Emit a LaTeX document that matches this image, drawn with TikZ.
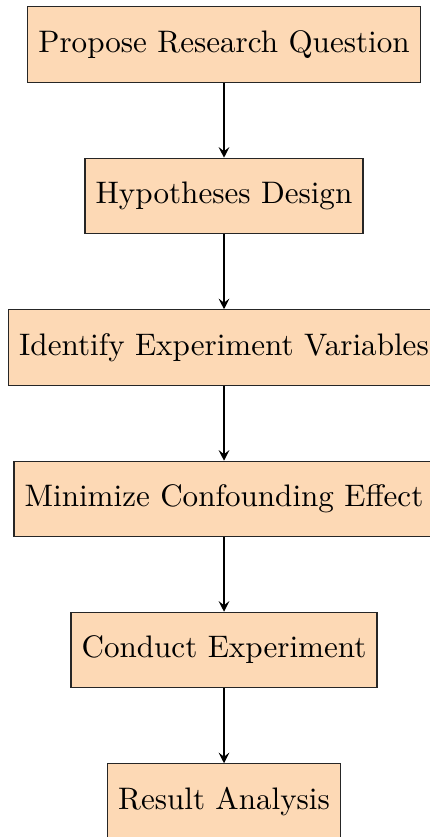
\documentclass[tikz,border=0pt]{standalone}
\usetikzlibrary{arrows.meta}
\definecolor{peach}{HTML}{FDD9B5}
\begin{document}
\begin{tikzpicture}[x=0.3215pt,y=-0.3215pt,
  stepbox/.style={draw=black!85, line width=0.4pt, fill=peach, minimum height=24.2pt, inner xsep=3.4pt, anchor=center},
  flow/.style={line width=0.6pt, -{Stealth[length=3.4pt,width=3.4pt,inset=1.3pt]}}]
\useasboundingbox (0,0) rectangle (429,837);
\node[stepbox] (n1) at (224,44.5) {Propose Research Question};
\node[stepbox] (n2) at (224,196) {Hypotheses Design};
\node[stepbox] (n3) at (224,347.5) {Identify Experiment Variables};
\node[stepbox] (n4) at (224,499) {Minimize Confounding Effect};
\node[stepbox] (n5) at (224,650) {Conduct Experiment};
\node[stepbox] (n6) at (224,801.5) {Result Analysis};
\draw[flow] (n1) -- (n2);
\draw[flow] (n2) -- (n3);
\draw[flow] (n3) -- (n4);
\draw[flow] (n4) -- (n5);
\draw[flow] (n5) -- (n6);
\end{tikzpicture}
\end{document}
